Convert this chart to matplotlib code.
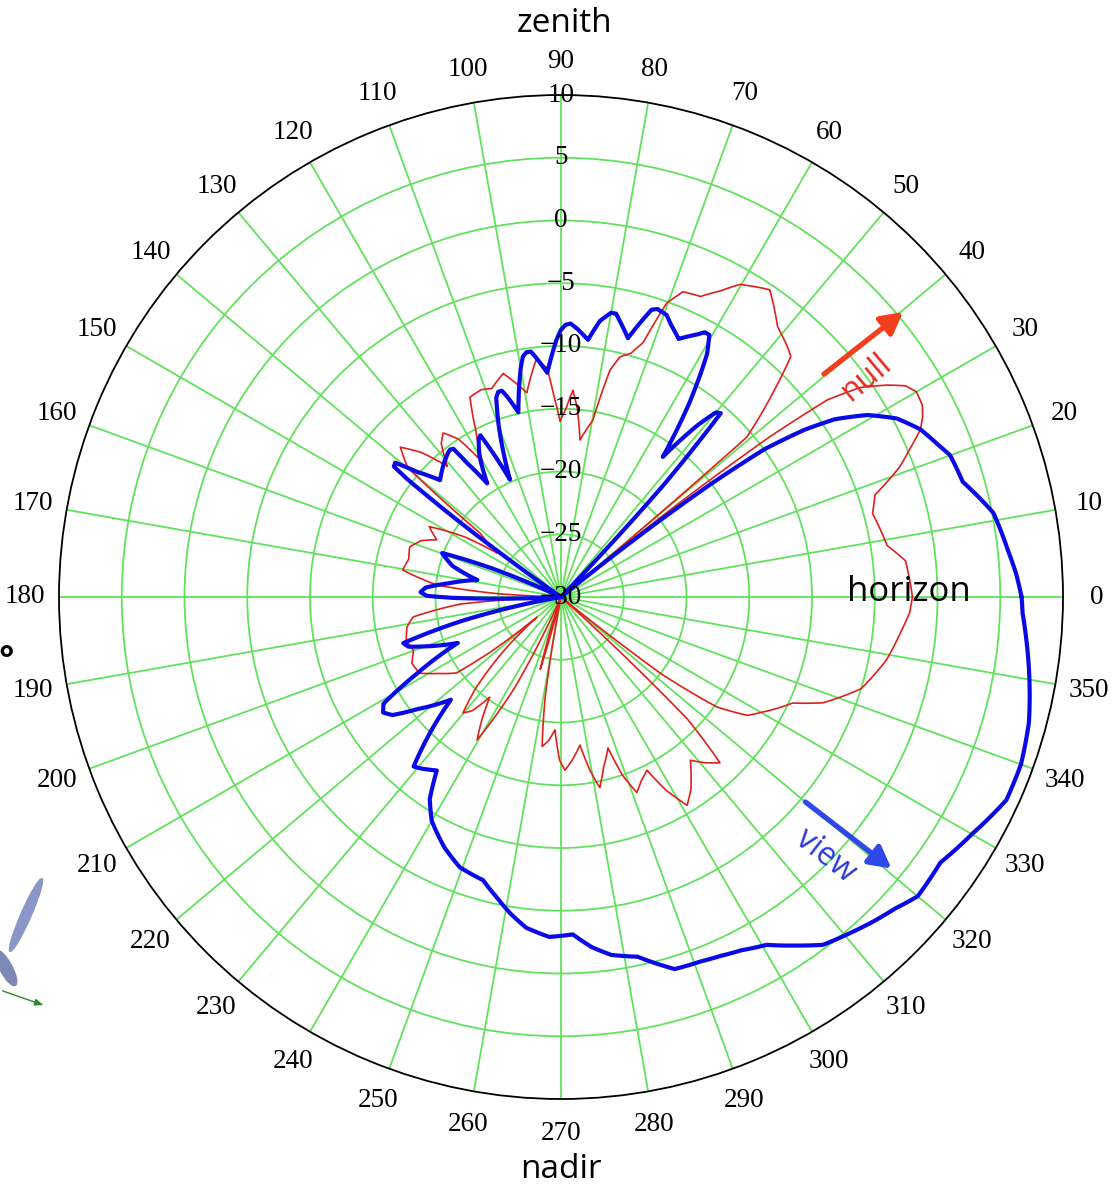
import numpy as np
import matplotlib
matplotlib.use("Agg")
from matplotlib import pyplot as plt
from matplotlib.patches import Ellipse

plt.rcParams['path.simplify'] = False

# antenna pattern, angle in degrees, gain in dB (-30 dB = centre)
view_ang = [0, 3, 6, 11, 16, 20, 22, 25, 28, 30.7, 33, 34.5, 36, 37, 38, 39, 46, 47.5, 49, 50, 51.5,
            54, 56.5, 58, 59, 60.5, 61.5, 62.5, 65.5, 68, 69.5, 70.5, 71.5, 72.5, 75.5, 78, 79, 80, 82, 84, 86.5,
            88, 89, 90, 91, 93.5, 96, 97, 98, 99, 100, 103, 105, 106, 107, 108, 110, 113.5, 115.5, 116.5, 117, 117.5,
            120, 123, 125, 126, 127, 128, 131, 136, 139, 141, 142, 142.5, 143.5, 145, 155, 157.5, 159.7, 164,
            168.5, 173, 176, 178, 179.5, 180.5, 183, 190, 193.5, 196.3, 198, 200, 204, 208, 211, 213, 215, 218,
            223, 226, 229, 231, 234.4, 237, 240, 245, 249.5, 254.6, 258, 260.8, 264, 268, 272, 275, 278, 282,
            287, 291, 294, 297, 300.6, 304, 307, 310, 314, 317, 320, 325, 330, 335.5, 340, 345, 350, 355, 358]
view_db = [6.7, 6.3, 5.8, 5.1, 3.3, 3.0, 2.4, 1.6, 0.3, -1.6, -4.0, -6.5, -10.0, -15, -22, -30, -30, -18, -10.6, -10.8, -12.5,
           -16.2, -11.5, -9.0, -7.4, -6.0, -6.0, -6.4, -7.4, -6.6, -6.0, -5.9, -5.8, -6.0, -8.7, -7.5, -7.0, -7.0, -7.8, -9.4, -8.6,
           -8.2, -8.3, -8.7, -9.5, -12.1, -10.8, -10.3, -10.3, -10.6, -11.5, -14.9, -13.5, -12.9, -12.9, -13.3, -15.5, -19.8, -17.0, -15.6, -15.7, -15.8,
           -17.0, -19.2, -17.0, -15.4, -15.3, -15.4, -15.8, -16.6, -14.8, -13.0, -13.1, -14.5, -20, -30, -30, -24, -19.9, -21.0,
           -23.2, -21.0, -19.2, -18.8, -19.3, -21.5, -30, -30, -22, -16.9, -17.2, -18.5, -21, -17, -13.5, -13.1, -13.6, -15.5,
           -18, -15, -12.1, -12.4, -13.0, -10.8, -9.4, -8.0, -7.0, -6.6, -5.5, -4.5, -3.5, -2.9, -3.1, -2.0, -1.2, -0.7,
           1.0, 1.1, 1.3, 1.6, 2.2, 3.5, 4.7, 5.2, 5.9, 6.4, 7.1, 6.9, 7.8, 9.0, 9.0, 8.6, 7.9, 7.2, 6.8]

null_ang = [0, 3, 6, 9, 12, 15, 18, 21, 23, 25, 26.5, 28, 30, 31.5, 33, 35, 36.5, 37.5, 38.5, 39.5,
            40.2, 40.7, 43.9, 46.3, 47.9, 51.3, 55.8, 57.3, 60.2, 62.5, 65.1, 68.2, 70.2, 72.1, 74, 76.2,
            77.8, 79.8, 83.1, 85, 86.7, 88.5, 90.3, 92, 93.5, 96, 99.5, 104.5, 108.4, 111, 114.5, 117,
            120.2, 123, 125.7, 128, 131, 134, 137, 139.8, 141.7, 145.5, 148, 151.9, 155.3, 158, 161.7,
            166, 170.3, 174.5, 177, 178.5, 181.5, 184, 187.7, 191, 195.6, 200, 204, 208.3, 212, 216,
            218, 220, 223, 227, 229.8, 232, 234.6, 237, 239.6, 243, 246, 251, 253, 254, 255.5, 259,
            261, 262.8, 265, 267.4, 269.5, 271.3, 274, 277.3, 279.5, 281.5, 284, 287.3, 289, 291.2,
            293.5, 296.4, 298.5, 301.2, 304, 308.4, 311, 313.8, 316, 318, 321, 322.5, 324.8, 327.6,
            330, 335.4, 338, 343, 349, 354, 357.4]
null_db = [-2.0, -2.2, -2.4, -3.7, -4.0, -4.3, -3.7, -1.1, 0.2, 1.6, 2.2, 2.6, 2.7, 2.2, 1.0, -0.9, -3.6, -9, -18, -30,
           -20, -10.5, -6.6, -3.5, -3.1, -2.4, -0.4, -0.7, -1.3, -2.5, -3.6, -3.8, -5.1, -8.7, -9.8, -10.3,
           -11.5, -15.7, -17.4, -15, -13.5, -15, -16, -14, -11.7, -11, -13.5, -11.6, -12.5, -12.3, -12.5, -15,
           -17.6, -15, -13.9, -14.5, -16.2, -14, -12.5, -14, -21.8, -23.8, -21, -18.1, -19.1, -18, -17.3,
           -17.5, -17.2, -20.1, -25, -30, -30, -22, -18.1, -17.5, -17.2, -17.5, -17.0, -17.2, -18.5, -19.7,
           -23, -27.5, -24, -20, -17.9, -18.5, -20.2, -18.5, -16.8, -22, -30, -30, -26, -24, -30, -30,
           -22, -18, -18.5, -19.4, -17, -16.2, -17, -18.1, -16, -14.5, -16, -17.4, -15, -13.3,
           -14, -14.6, -12.5, -10.6, -11.5, -13.4, -12.5, -11.7, -16, -30, -30, -20, -14.8, -12.4,
           -11.6, -9.7, -7.5, -5.0, -3.6, -2.8, -2.2]

r_ticks = [10, 5, 0, -5, -10, -15, -20, -25, -30]
theta_ticks = list(range(0, 360, 10))

W, H = 1119, 1188
fig = plt.figure(figsize=(W / 100, H / 100), dpi=100)
cx, cy, R = 561, 597, 502
ax = fig.add_axes([(cx - R) / W, (H - cy - R) / H, 2 * R / W, 2 * R / H], projection='polar')

grid_green = '#62e25c'
ax.set_ylim(-30, 10)
ax.set_thetagrids(theta_ticks, labels=[''] * len(theta_ticks))
ax.set_rgrids(r_ticks[1:-1], labels=[''] * (len(r_ticks) - 2))
ax.grid(True, color=grid_green, linewidth=1.3)
ax.spines['polar'].set_color('black')
ax.spines['polar'].set_linewidth(1.3)
ax.tick_params(length=0)


def closed(a, v):
    t = np.radians(np.r_[a, a[0] + 360])
    return t, np.r_[v, v[0]]


def draw(a, v, **kw):
    t, r = closed(np.array(a), np.array(v))
    ln, = ax.plot(t, r, solid_joinstyle='round', solid_capstyle='round', **kw)
    # let the polar transform bend the segments into spirals
    ln.get_path()._interpolation_steps = 30
    return ln


draw(null_ang, null_db, color='#e0201c', linewidth=1.2, zorder=3)
draw(view_ang, view_db, color='#0a0ae6', linewidth=3.0, zorder=4)

# angle labels around the rim
serif = 'Liberation Serif'
r_lab = -30 + 40 * 536 / 502
for a in theta_ticks:
    ax.text(np.radians(a), r_lab, str(a), ha='center', va='center',
            fontsize=19.5, family=serif, clip_on=False)

# dB labels along the 90 deg spoke
for v_ in r_ticks:
    s = str(v_).replace('-', '\u2212')
    ax.text(np.pi / 2, v_, s, ha='center', va='center', fontsize=19.5, family=serif, zorder=5)

# annotations
sans = 'Open Sans'
fig.text(565 / W, 1 - 24 / H, 'zenith', ha='center', va='center', fontsize=24, family=sans)
fig.text(561 / W, 1 - 1170 / H, 'nadir', ha='center', va='center', fontsize=24, family=sans)
fig.text(909 / W, 1 - 592 / H, 'horizon', ha='center', va='center', fontsize=25, family=sans)

ax.annotate('', xy=(np.radians(39.8), 5.7), xytext=(np.radians(40.3), -2.75),
            arrowprops=dict(arrowstyle='-|>,head_length=1.3,head_width=0.7', color='#f2401e', lw=3.8),
            annotation_clip=False)
fig.text(866 / W, 1 - 378 / H, 'null', ha='center', va='center', fontsize=23, family=sans,
         color='#e82a20', rotation=40)

ax.annotate('', xy=(np.radians(-39.4), 4.3), xytext=(np.radians(-40.0), -4.8),
            arrowprops=dict(arrowstyle='-|>,head_length=1.3,head_width=0.7', color='#3048ea', lw=3.8),
            annotation_clip=False)
fig.text(826 / W, 1 - 856 / H, 'view', ha='center', va='center', fontsize=23, family=sans,
         color='#2a3ad8', rotation=-38)

# bits of the neighbouring slide at the left edge
fig.text(6 / W, 1 - 662 / H, '\u00b0', ha='center', va='center', fontsize=26, family=sans,
         fontweight='bold')
fig.add_artist(Ellipse((26 / W, 1 - 915 / H), 10 / W, 80 / H, angle=-25, color='#8a96c8'))
fig.add_artist(Ellipse((6 / W, 1 - 968 / H), 12 / W, 40 / H, angle=30, color='#7d88b4'))
ax.annotate('', xy=(46 / W, 1 - 1006 / H), xytext=(0, 1 - 990 / H), xycoords='figure fraction',
            arrowprops=dict(arrowstyle='-|>,head_length=0.5,head_width=0.2', color='#2a8a2a', lw=1))

fig.savefig('out.png', dpi=100, facecolor='white')
